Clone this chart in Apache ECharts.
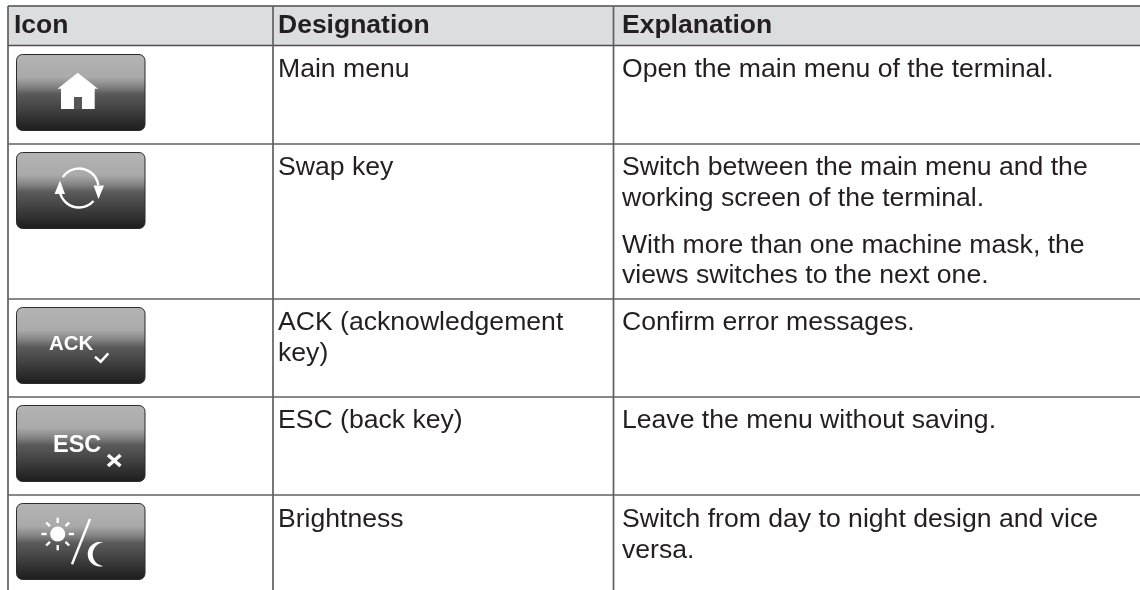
<!DOCTYPE html>
<html>
<head>
<meta charset="utf-8">
<title>Icon table</title>
<script src="https://cdn.jsdelivr.net/npm/echarts@6/dist/echarts.min.js"></script>
<style>
html, body { margin: 0; padding: 0; background: #fff; }
#main { width: 1140px; height: 590px; }
</style>
</head>
<body>
<div id="main"></div>
<script>
var headers = ['Icon', 'Designation', 'Explanation'];
var designations = [
    ['Main menu'],
    ['Swap key'],
    ['ACK (acknowledgement', 'key)'],
    ['ESC (back key)'],
    ['Brightness']
];
var explanations = [
    ['Open the main menu of the terminal.'],
    ['Switch between the main menu and the', 'working screen of the terminal.', 'With more than one machine mask, the', 'views switches to the next one.'],
    ['Confirm error messages.'],
    ['Leave the menu without saving.'],
    ['Switch from day to night design and vice', 'versa.']
];
var ackLabel = 'ACK';
var escLabel = 'ESC';

window.onload = function () {
    var FONT = '"Liberation Sans", Arial, sans-serif';
    var TEXT = '#231f20';
    var LINE = '#5f6062';
    var colX = [8, 273, 613.5];
    var textX = [14, 278, 622];
    var rowLines = [144, 299, 397, 495];
    var btnTops = [54, 152, 307, 405, 503];
    var desigBase = [[78.5], [176.5], [332, 363], [430], [528.5]];
    var explBase = [[78.5], [176.5, 207.5, 254.5, 285], [332], [430], [528.5, 560]];
    var items = [];

    function label(str, x, base, size, weight, color) {
        items.push({
            type: 'text', silent: true, x: x, y: base - size * 0.35,
            style: { text: str, fill: color || TEXT, font: (weight || 'normal') + ' ' + size + 'px ' + FONT, verticalAlign: 'middle', align: 'left' }
        });
    }
    function hline(y, w, color) {
        items.push({ type: 'line', silent: true, shape: { x1: colX[0], y1: y, x2: 1140, y2: y }, style: { stroke: color || LINE, lineWidth: w } });
    }
    function white(type, shape, style) {
        items.push({ type: type, silent: true, shape: shape, style: style });
    }
    function stroke(w) {
        return { stroke: '#fff', lineWidth: w, fill: null };
    }
    function arcPoints(cx, cy, r, from, to, out) {
        var n = 24;
        for (var i = 0; i <= n; i++) {
            var t = (from + (to - from) * i / n) * Math.PI / 180;
            out.push([cx + r * Math.cos(t), cy + r * Math.sin(t)]);
        }
    }

    // header band and grid
    items.push({ type: 'rect', silent: true, shape: { x: colX[0], y: 6, width: 1132, height: 39 }, style: { fill: '#dcddde' } });
    hline(6, 1.5, '#4d4d4f');
    hline(45.5, 1.5, '#4d4d4f');
    rowLines.forEach(function (y) { hline(y, 1.7); });
    colX.forEach(function (x) {
        items.push({ type: 'line', silent: true, shape: { x1: x, y1: 6, x2: x, y2: 590 }, style: { stroke: LINE, lineWidth: 1.7 } });
    });

    headers.forEach(function (h, i) { label(h, textX[i], 35, 26.5, 'bold'); });
    designations.forEach(function (lines, r) {
        lines.forEach(function (s, k) { label(s, textX[1], desigBase[r][k], 26.6); });
    });
    explanations.forEach(function (lines, r) {
        lines.forEach(function (s, k) { label(s, textX[2], explBase[r][k], 26.6); });
    });

    // buttons
    btnTops.forEach(function (y) {
        items.push({
            type: 'rect', silent: true,
            shape: { x: 16.5, y: y + 0.5, width: 128.5, height: 76, r: 6 },
            style: {
                stroke: '#2b2b2b', lineWidth: 1,
                fill: new echarts.graphic.LinearGradient(0, 0, 0, 1, [
                    { offset: 0, color: '#b4b4b4' },
                    { offset: 0.3, color: '#aaaaaa' },
                    { offset: 0.42, color: '#858585' },
                    { offset: 0.52, color: '#5a5a5a' },
                    { offset: 0.62, color: '#4e4e4e' },
                    { offset: 1, color: '#1c1c1c' }
                ])
            }
        });
    });

    // home
    white('polygon', { points: [[77.7, 72.7], [98, 88.7], [94.7, 88.7], [94.7, 109], [61, 109], [61, 88.7], [57.5, 88.7]] }, { fill: '#fff' });
    white('rect', { x: 74, y: 97, width: 8, height: 12 }, { fill: '#565656' });

    // swap
    var cx = 79, cy = 188;
    white('arc', { cx: cx, cy: cy, r: 19.5, startAngle: 214 * Math.PI / 180, endAngle: 352 * Math.PI / 180, clockwise: true }, stroke(2.4));
    white('arc', { cx: cx, cy: cy, r: 19.5, startAngle: 42 * Math.PI / 180, endAngle: 170 * Math.PI / 180, clockwise: true }, stroke(2.4));
    white('polygon', { points: [[93.5, 185.5], [104, 185.5], [98.5, 199]] }, { fill: '#fff' });
    white('polygon', { points: [[60, 180.5], [54.5, 194], [65, 194]] }, { fill: '#fff' });

    // ack, esc
    label(ackLabel, 49, 352, 20.5, 'bold', '#fff');
    white('polyline', { points: [[95, 356.7], [100.7, 361.7], [108.3, 353.3]] }, stroke(2.5));
    label(escLabel, 53, 453.5, 23.5, 'bold', '#fff');
    white('line', { x1: 108, y1: 455, x2: 120.5, y2: 466 }, stroke(3.5));
    white('line', { x1: 120.5, y1: 455, x2: 108, y2: 466 }, stroke(3.5));

    // sun, slash, moon
    var sx = 57.7, sy = 534;
    white('circle', { cx: sx, cy: sy, r: 7.6 }, { fill: '#fff' });
    for (var a = 0; a < 8; a++) {
        var t = a * Math.PI / 4;
        white('line', {
            x1: sx + 11 * Math.cos(t), y1: sy + 11 * Math.sin(t),
            x2: sx + 16.3 * Math.cos(t), y2: sy + 16.3 * Math.sin(t)
        }, stroke(2.4));
    }
    white('line', { x1: 90, y1: 519, x2: 72, y2: 564.3 }, stroke(2.4));
    var moon = [];
    arcPoints(100, 554.2, 12.3, -74.4, -285.6, moon);
    arcPoints(104.6, 554.2, 11.9, -263.7, -96.3, moon);
    white('polygon', { points: moon }, { fill: '#fff' });

    var chart = echarts.init(document.getElementById('main'), null, { renderer: 'canvas' });
    chart.setOption({ animation: false, graphic: { elements: items } });
};
</script>
</body>
</html>
